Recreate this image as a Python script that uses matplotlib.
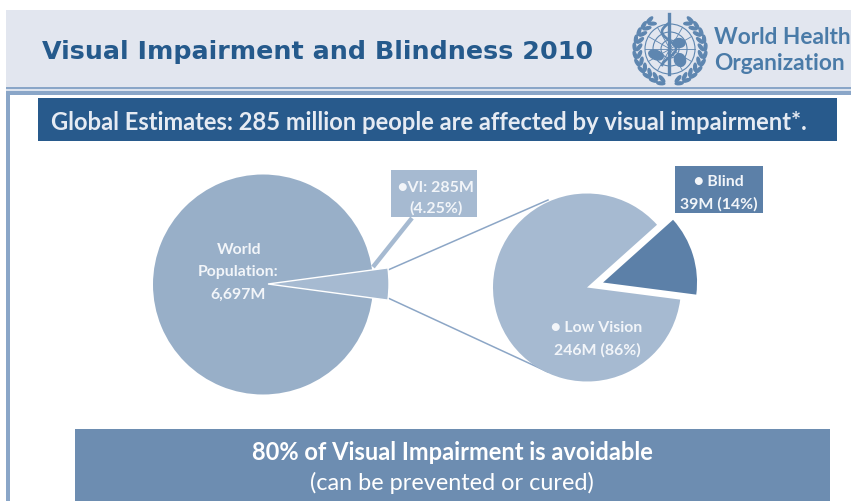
import numpy as np
import matplotlib
matplotlib.use("Agg")
import matplotlib.pyplot as plt
from matplotlib.patches import Rectangle, Circle, Ellipse

# Population figures, in millions
world_labels = ["Visually impaired", "Rest of world"]
world_values = [285, 6412]
vi_labels = ["Blind", "Low vision"]
vi_values = [39, 246]

title_text = "Visual Impairment and Blindness 2010"
banner_text = "Global Estimates: 285 million people are affected by visual impairment*."
footer_lines = ["80% of Visual Impairment is avoidable", "(can be prevented or cured)"]

W, H = 851, 502
NAVY = "#285A8C"
FRAME = "#8AA6C8"
DISC = "#98AFC8"
LIGHT = "#A6BAD1"
DARK = "#5C80A8"
FOOT = "#6D8DB1"
SANS = ["Lato", "DejaVu Sans"]
INK = "#F2F5F9"

fig = plt.figure(figsize=(W / 100, H / 100), dpi=100, facecolor="white")
ax = fig.add_axes([0, 0, 1, 1])


def Y(y):
    # Layout is worked out from the top edge of the slide
    return H - y


def box(x0, y0, x1, y1, color, z=1, **kw):
    ax.add_patch(Rectangle((x0, Y(y1)), x1 - x0, y1 - y0, facecolor=color,
                           edgecolor="none", zorder=z, **kw))


# Pies
ax.pie([1], colors=[DISC], center=(263, Y(285.5)), radius=110,
       wedgeprops=dict(linewidth=0, zorder=2))
slice_, _ = ax.pie(world_values, colors=[LIGHT, "none"], startangle=-world_values[0] / sum(world_values) * 180,
                   center=(268, Y(285)), radius=121,
                   wedgeprops=dict(linewidth=0, zorder=3))
slice_[1].set_visible(False)
slice_[0].set_edgecolor("white")
slice_[0].set_linewidth(1.0)
# pie() applies explode as an offset in data units, here pixels
ax.pie(vi_values, colors=[DARK, LIGHT], startangle=-7.4, explode=(16.8, 0),
       center=(587, Y(288.5)), radius=94,
       wedgeprops=dict(linewidth=0, zorder=3))

ax.set_xlim(0, W)
ax.set_ylim(0, H)
ax.set_aspect("auto")
ax.axis("off")

# Slide furniture
box(6, 11, W, 88, "#E2E6EF")
box(6, 88, W, 90, FRAME)
box(6, 90, W, 92, "#DCE3EE")
box(6, 92, W, 96, FRAME)
box(6, 92, 10, H, FRAME)
box(38, 99, 837, 142, NAVY)
box(75, 430, 830, H, FOOT)
box(391, 171, 477, 218, LIGHT, z=4)
box(675, 167, 763, 214, DARK, z=4)

# Connectors from the slice to the second pie and to its callout
for xs, ys in (((388, 548), (271, 201)), ((388, 548), (299, 373))):
    ax.plot(xs, [Y(v) for v in ys], color="#8CA6C6", lw=1.1, zorder=2.5)
ax.plot((373, 412), (Y(268), Y(219)), color=LIGHT, lw=3.2, zorder=2.5, solid_capstyle="butt")

# Heading and banner text
ax.text(42, Y(52), title_text, family="DejaVu Sans", weight="bold", fontsize=18.3,
        color="#255A8C", va="center", ha="left", zorder=5)
ax.text(51, Y(123), banner_text, family=SANS, weight="bold", fontsize=17.15,
        color="#E6EBF3", va="center", ha="left", zorder=5)
ax.text(452, Y(453), footer_lines[0], family=SANS, weight="bold", fontsize=17,
        color="white", va="center", ha="center", zorder=5)
ax.text(452, Y(483), footer_lines[1], family=SANS, fontsize=16.9,
        color="white", va="center", ha="center", zorder=5)

# Pie labels
for x, y, s in [(239, 250, "World"), (238, 272, "Population:"), (238, 295, "6,697M"),
                (436, 188, "●VI: 285M"), (436, 208, "(4.25%)"),
                (719, 182, "● Blind"), (719, 204, "39M (14%)"),
                (597, 328, "● Low Vision"), (597, 350, "246M (86%)")]:
    ax.text(x, Y(y), s, family=SANS, weight="bold", fontsize=11.4, color=INK,
            ha="center", va="center", zorder=6)

# Emblem: globe grid, staff and laurel
EMB = "#5E86B0"
cx, cy = 670, Y(50)
for r in (25, 17, 9):
    ax.add_patch(Circle((cx, cy), r, fill=False, ec=EMB, lw=0.8, zorder=5))
for a in np.arange(0, 180, 30):
    t = np.deg2rad(a)
    ax.plot([cx - 25 * np.cos(t), cx + 25 * np.cos(t)],
            [cy - 25 * np.sin(t), cy + 25 * np.sin(t)], color=EMB, lw=0.6, zorder=5)
ax.plot([cx - 1, cx - 1], [Y(15), Y(75)], color=EMB, lw=2.4, zorder=6)
snake_y = np.linspace(Y(24), Y(66), 60)
ax.plot(cx - 1 + 7 * np.sin((snake_y - snake_y[0]) / 5.5), snake_y, color=EMB, lw=1.9, zorder=6)
ax.add_patch(Ellipse((cx - 14, cy - 6), 15, 9, angle=-20, color=EMB, zorder=5))
ax.add_patch(Ellipse((cx + 10, cy - 11), 11, 13, angle=20, color=EMB, zorder=5))
ax.add_patch(Ellipse((cx + 9, cy + 6), 12, 9, angle=0, color=EMB, zorder=5))
for side in (-1, 1):
    for a in np.arange(-75, 60, 13):
        t = np.deg2rad(a)
        for r, tilt in ((31, 35), (35.5, -10)):
            ax.add_patch(Ellipse((cx + side * r * np.cos(t), cy + r * np.sin(t)), 8, 2.8,
                                 angle=side * (a + 90 + tilt), color=EMB, zorder=5))
ax.text(714, Y(38), "World Health", family=["Lato", "DejaVu Sans"], weight="bold",
        fontsize=16.3, color="#4A7BA8", va="center", ha="left", zorder=5)
ax.text(714, Y(64), "Organization", family=["Lato", "DejaVu Sans"], weight="bold",
        fontsize=16.3, color="#4A7BA8", va="center", ha="left", zorder=5)

fig.savefig("out.png", dpi=100, facecolor="white")
